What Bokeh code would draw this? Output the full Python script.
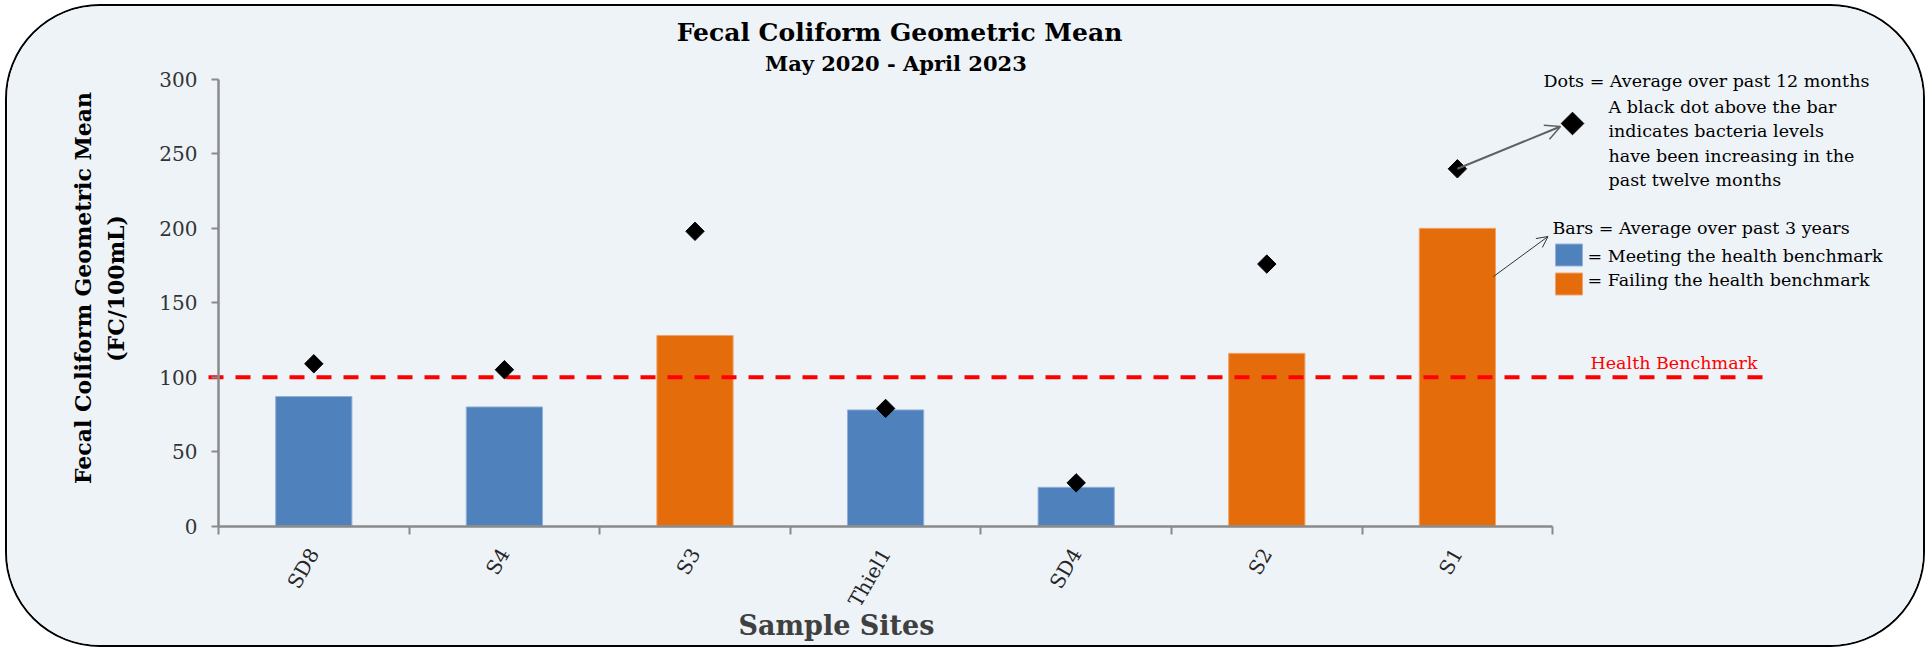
import numpy as np
from bokeh.plotting import figure
from bokeh.models import (Range1d, FixedTicker, Label, Arrow, OpenHead, ColumnDataSource,
                          LinearAxis, Grid)
from bokeh.embed import file_html
from bokeh.resources import INLINE

# ---------------- data ----------------
sites = ["SD8", "S4", "S3", "Thiel1", "SD4", "S2", "S1"]
avg_3yr = [87, 80, 128, 78, 26, 116, 200]        # bars: average over past 3 years
avg_12mo = [109, 105, 198, 79, 29, 176, 240]     # dots: average over past 12 months
benchmark = 100
y_ticks = [0, 50, 100, 150, 200, 250, 300]

title_text = "Fecal Coliform Geometric Mean"
subtitle_text = "May 2020 -  April 2023"
ylabel_1 = "Fecal Coliform Geometric Mean"
ylabel_2 = "(FC/100mL)"
xlabel_text = "Sample Sites"
dots_lines = ["A black dot above the bar", "indicates bacteria levels",
              "have been increasing in the", "past twelve months"]

# ---------------- styling ----------------
BG = "#EEF3F8"
BLUE, BLUE_EDGE = "#4F81BD", "#93B1D8"
ORANGE, ORANGE_EDGE = "#E46C0A", "#F2A36A"
AXIS_C = "#8A8A8A"
FONT = "DejaVu Serif"

# layout (page pixels); the plot frame fills the whole canvas
ORIG_X, ORIG_Y = 7, 6              # canvas origin inside the 2px border
W, H = 1920, 643                   # outer size (border-box)
AX_X0, AX_Y0 = 218.0, 525.5        # page position of (0, 0)
PXU = 190.6                         # px per category
PYU = 446.5 / 300.0                 # px per y unit


def X(px):
    return (px - AX_X0) / PXU


def Y(py):
    return (AX_Y0 - py) / PYU


n = len(sites)
centers = [i + 0.5 for i in range(n)]
bar_colors = [BLUE if v <= benchmark else ORANGE for v in avg_3yr]
edge_colors = [BLUE_EDGE if v <= benchmark else ORANGE_EDGE for v in avg_3yr]

src = ColumnDataSource(dict(x=centers, top=avg_3yr, dot=avg_12mo,
                            fill=bar_colors, edge=edge_colors, site=sites))

p = figure(width=W, height=H, output_backend="svg", toolbar_location=None,
           x_range=Range1d(X(ORIG_X), X(ORIG_X + W)),
           y_range=Range1d(Y(ORIG_Y + H), Y(ORIG_Y)),
           x_axis_location=None, y_axis_location=None,
           min_border=0, min_border_left=0, min_border_right=0,
           min_border_top=0, min_border_bottom=0)
p.title.visible = False
p.background_fill_color = BG
p.border_fill_color = BG
p.outline_line_color = None
for g in p.select(type=Grid):
    g.visible = False
    g.grid_line_color = None
p.styles = {"margin-left": "5px", "margin-top": "4px",
            "border": "2px solid black", "border-radius": "95px", "overflow": "hidden"}

# bars
p.vbar(x="x", top="top", width=0.40, fill_color="fill", line_color="edge", line_width=1, source=src)

# benchmark line
p.segment(x0=[X(208)], x1=[X(1767)], y0=[benchmark], y1=[benchmark],
          line_color="#FF0000", line_width=4, line_dash="15 12")

# dots
p.scatter(x="x", y="dot", marker="square", angle=np.pi / 4, size=13,
          fill_color="black", line_color="black", source=src)

# axes (fixed at the data origin)
xa = LinearAxis(fixed_location=0)
xa.ticker = FixedTicker(ticks=centers, minor_ticks=list(range(n + 1)))
xa.major_label_overrides = {c: s for c, s in zip(centers, sites)}
xa.bounds = (0, n)
xa.major_tick_out = 0
xa.major_tick_in = 0
xa.minor_tick_out = 8
xa.minor_tick_in = 0
xa.minor_tick_line_color = AXIS_C
xa.minor_tick_line_width = 2
xa.axis_line_color = AXIS_C
xa.axis_line_width = 2.5
xa.major_label_orientation = np.pi / 3
xa.major_label_text_font = FONT
xa.major_label_text_font_size = "20px"
xa.major_label_text_color = "#262626"
xa.major_label_standoff = 16
p.add_layout(xa, "below")

ya = LinearAxis(fixed_location=0)
ya.ticker = FixedTicker(ticks=y_ticks)
ya.bounds = (0, 300)
ya.major_tick_out = 7
ya.major_tick_in = 0
ya.minor_tick_line_color = None
ya.major_tick_line_color = AXIS_C
ya.major_tick_line_width = 2
ya.axis_line_color = AXIS_C
ya.axis_line_width = 2.5
ya.major_label_text_font = FONT
ya.major_label_text_font_size = "20px"
ya.major_label_text_color = "#333333"
ya.major_label_standoff = 14
p.add_layout(ya, "left")


def label(txt, px, py, fs, bold=False, color="black", align="left", baseline="alphabetic", angle=0):
    if baseline == "alphabetic":
        py = py - 0.4 * fs      # compensate the renderer's baseline offset
    p.add_layout(Label(x=X(px), y=Y(py), text=txt, text_font=FONT, text_font_size=f"{fs}px",
                       text_font_style="bold" if bold else "normal", text_color=color,
                       text_align=align, text_baseline=baseline, angle=angle))


# titles
label(title_text, 899, 42, 25, bold=True, align="center")
label(subtitle_text, 899, 71, 21, bold=True, align="center")
# axis titles
label(ylabel_1, 82, 287.5, 22, bold=True, align="center", baseline="middle", angle=np.pi / 2)
label(ylabel_2, 115, 288, 22, bold=True, align="center", baseline="middle", angle=np.pi / 2)
label(xlabel_text, 836, 636, 27, bold=True, color="#404040", align="center")

# benchmark label
label("Health Benchmark", 1590, 369, 17.5, color="#FF0000")

# legend-like annotation
label("Dots = Average over past 12 months", 1543, 87, 17.5)
for i, t in enumerate(dots_lines):
    label(t, 1608, 113 + i * 24.5, 17.5)
label("Bars = Average over past 3 years", 1552, 234, 17.5)
label("= Meeting the health benchmark", 1587, 262, 17.5)
label("= Failing the health benchmark", 1587, 286, 17.5)

p.scatter(x=[X(1572)], y=[Y(123)], marker="square", angle=np.pi / 4, size=16,
          fill_color="black", line_color="black")
p.quad(left=[X(1555), X(1555)], right=[X(1582), X(1582)],
       top=[Y(243.5), Y(272.5)], bottom=[Y(265.5), Y(294.5)],
       fill_color=[BLUE, ORANGE], line_color=[BLUE_EDGE, ORANGE_EDGE], line_width=1)

# arrows
p.add_layout(Arrow(x_start=centers[-1], y_start=avg_12mo[-1], x_end=X(1560), y_end=Y(126),
                   line_color="#606060", line_width=2,
                   end=OpenHead(size=15, line_color="#606060", line_width=1.5)))
p.add_layout(Arrow(x_start=X(1493), y_start=Y(276), x_end=X(1547.5), y_end=Y(236),
                   line_color="#333333", line_width=1,
                   end=OpenHead(size=11, line_color="#333333", line_width=1)))

open("out.html", "w").write(file_html(p, INLINE))
